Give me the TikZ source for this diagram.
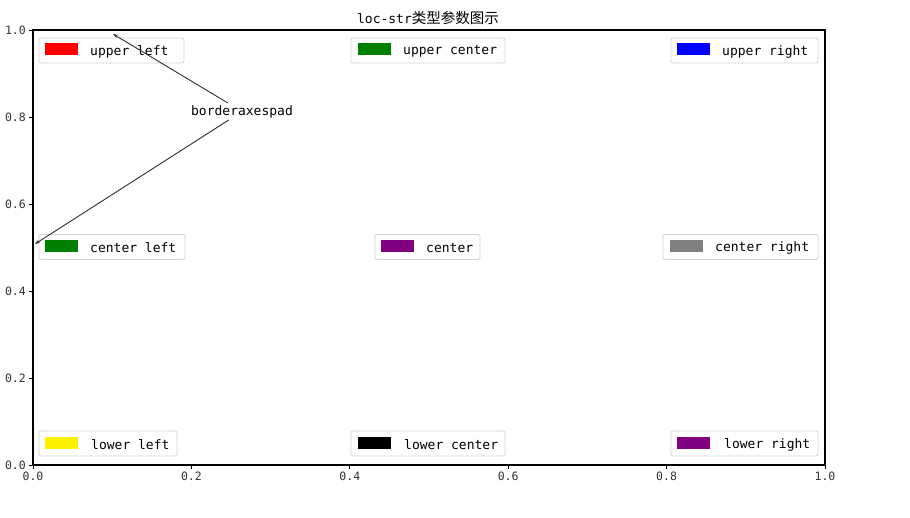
\documentclass[tikz,border=0pt]{standalone}
\usepackage{fontspec}
\setmonofont{DejaVu Sans Mono}
\newfontfamily\cjkfont{Noto Sans CJK SC}
\usetikzlibrary{arrows.meta}
\definecolor{mplgreen}{RGB}{0,128,0}
\definecolor{mplpurple}{RGB}{128,0,128}
\definecolor{mplgrey}{RGB}{128,128,128}
\definecolor{framegrey}{RGB}{210,210,210}
\definecolor{annogrey}{RGB}{45,45,45}

\begin{document}
\begin{tikzpicture}[x=1pt, y=-1pt, >={Stealth[length=5pt, width=3.5pt]},
    legend/.style={draw=framegrey, rounded corners=2pt, line width=0.8pt, minimum height=25pt, inner sep=0pt},
    patch/.style={minimum width=33pt, minimum height=12pt, inner sep=0pt},
    legtext/.style={anchor=west, inner sep=0pt, font=\ttfamily\fontsize{13}{15}\selectfont},
    ticklab/.style={inner sep=0pt, text=black!80, font=\ttfamily\fontsize{11.5}{13}\selectfont}]
    \useasboundingbox (0,0) rectangle (910,518);

    % Axes
    \draw[line width=1.3pt] (33,30) rectangle (825,465);
    \foreach \v/\p in {0.0/33, 0.2/191.4, 0.4/349.8, 0.6/508.2, 0.8/666.6, 1.0/825} {
        \draw[line width=0.8pt] (\p,465) -- (\p,469);
        \node[ticklab, anchor=north] (xt\p) at (\p,472) {\v};
    }
    \foreach \v/\p in {0.0/465, 0.2/378, 0.4/291, 0.6/204, 0.8/117, 1.0/30} {
        \draw[line width=0.8pt] (29,\p) -- (33,\p);
        \node[ticklab, anchor=east] (yt\p) at (26,\p) {\v};
    }

    % Title
    \node[inner sep=0pt] (title) at (428,18) {{\ttfamily\fontsize{13}{15}\selectfont loc-str}{\cjkfont\fontsize{14.5}{16}\selectfont 类型参数图示}};

    % Legends
    \node[legend, minimum width=145pt] (ul) at (111.5,50.5) {};
    \node[patch, fill=red] (ulp) at (61.5,49) {};
    \node[legtext] (ult) at (90,51.5) {upper left};

    \node[legend, minimum width=154pt] (uc) at (428,50.5) {};
    \node[patch, fill=mplgreen] (ucp) at (374,49) {};
    \node[legtext] (uct) at (403,51.5) {upper center};

    \node[legend, minimum width=147pt] (ur) at (744.5,50.5) {};
    \node[patch, fill=blue] (urp) at (693.5,49) {};
    \node[legtext] (urt) at (722,51.5) {upper right};

    \node[legend, minimum width=146pt] (cl) at (112,247) {};
    \node[patch, fill=mplgreen] (clp) at (61.5,246) {};
    \node[legtext] (clt) at (90,248) {center left};

    \node[legend, minimum width=105pt] (c) at (427.5,247) {};
    \node[patch, fill=mplpurple] (cp) at (397.5,246) {};
    \node[legtext] (ct) at (426,248) {center};

    \node[legend, minimum width=155pt] (cr) at (740.5,247) {};
    \node[patch, fill=mplgrey] (crp) at (686,246) {};
    \node[legtext] (crt) at (715,248) {center right};

    \node[legend, minimum width=138pt] (ll) at (108,443.5) {};
    \node[patch, fill=yellow] (llp) at (61.5,442.5) {};
    \node[legtext] (llt) at (91,444.5) {lower left};

    \node[legend, minimum width=154pt] (lc) at (428,443.5) {};
    \node[patch, fill=black] (lcp) at (374,442.5) {};
    \node[legtext] (lct) at (404,444.5) {lower center};

    \node[legend, minimum width=147pt] (lr) at (744.5,443.5) {};
    \node[patch, fill=mplpurple] (lrp) at (693.5,442.5) {};
    \node[legtext] (lrt) at (724,444.5) {lower right};

    % Annotation
    \node[inner sep=2pt, font=\ttfamily\fontsize{13}{15}\selectfont] (bap) at (242,111.5) {borderaxespad};
    \coordinate (ultip) at (113,34);
    \coordinate (cltip) at (35,244);
    \draw[->, annogrey, line width=0.9pt] (bap) to (ultip);
    \draw[->, annogrey, line width=0.9pt] (bap) to (cltip);
\end{tikzpicture}
\end{document}
